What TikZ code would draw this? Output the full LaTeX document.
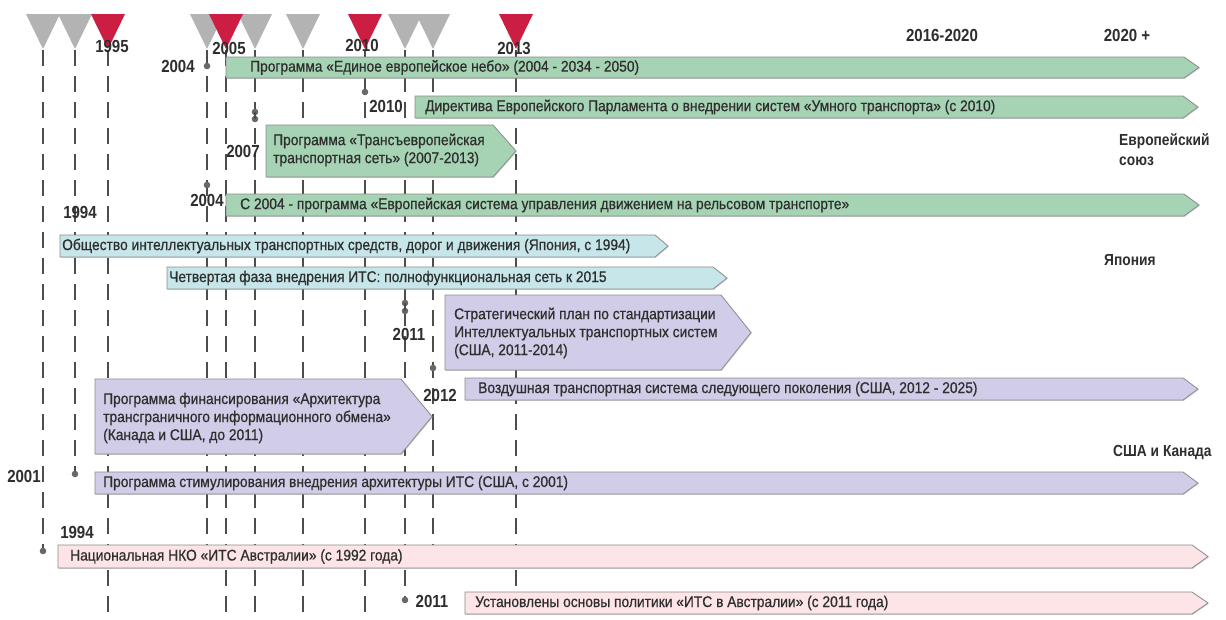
\documentclass[tikz,border=0pt]{standalone}
\usepackage{fontspec}
\setmainfont[FakeStretch=0.86]{Liberation Sans}
\newfontfamily\barfont[FakeStretch=0.89,FakeBold=0.6]{Liberation Sans}
\usetikzlibrary{shadows}
\definecolor{eugreen}{HTML}{A6D3B4}
\definecolor{jpcyan}{HTML}{C7E6EA}
\definecolor{uslav}{HTML}{D1CDE8}
\definecolor{aupink}{HTML}{FCE4E7}
\definecolor{trired}{HTML}{CC1E42}
\definecolor{trigray}{HTML}{B3B3B3}
\definecolor{txt}{HTML}{2E2E2E}
\definecolor{vline}{HTML}{4D4D4D}
\definecolor{edgec}{HTML}{8C8C8C}
\tikzset{
 vdash/.style={draw=vline, line width=1.8pt, dash pattern=on 16pt off 10pt},
 barbox/.style={draw=edgec, line width=0.8pt, drop shadow={shadow xshift=0.8pt, shadow yshift=-0.8pt, opacity=0.35}},
 bartext/.style={anchor=west, inner sep=0pt, text=txt, font=\barfont\fontsize{15.5}{16}\selectfont},
 multitext/.style={anchor=west, inner sep=0pt, text=txt, align=left, font=\barfont\fontsize{15.5}{18}\selectfont},
 yearlbl/.style={text=txt, font=\fontsize{17.5}{17}\selectfont\bfseries, inner sep=0pt},
 regionlbl/.style={text=txt, font=\fontsize{16}{20}\selectfont\bfseries, inner sep=0pt, anchor=west, align=left},
 pinc/.style={fill=vline!85, draw=none},
}
\newcommand\chevbar[6]{\path[barbox, fill=#6] (#1,#2) -- (#3,#2) -- ({#3+#5},{(#2+#4)/2}) -- (#3,#4) -- (#1,#4) -- cycle;}
\newcommand\tritop[2]{\fill[#2] ({#1-17},14) -- ({#1+17},14) -- (#1,49) -- cycle;}
\begin{document}
\begin{tikzpicture}[x=1pt,y=-1pt]
\useasboundingbox (0,0) rectangle (1226,619);
\fill[white] (0,0) rectangle (1226,619);
% vertical dashed year lines
\foreach \xx/\yy in {43/551,75/474,108/619,207/545,226/619,255/619,303/619,365/619,405/600,433/545,516/600}{
  \coordinate (t\xx) at (\xx,50);
  \coordinate (b\xx) at (\xx,\yy);
  \draw[vdash] (t\xx) -- (b\xx);
}
% triangles
\tritop{43}{trigray}
\tritop{75}{trigray}
\tritop{108}{trired}
\tritop{207}{trigray}
\tritop{255}{trigray}
\tritop{226}{trired}
\tritop{303}{trigray}
\tritop{365}{trired}
\tritop{405}{trigray}
\tritop{433}{trigray}
\tritop{516}{trired}
% top labels
\node[yearlbl] (y1995) at (112,46) {1995};
\node[yearlbl] (y2005) at (229,48) {2005};
\node[yearlbl] (y2010) at (362,45) {2010};
\node[yearlbl] (y2013) at (514,48) {2013};
\node[yearlbl] (y1620) at (942,35) {2016-2020};
\node[yearlbl] (y20p) at (1127,35) {2020 +};
% EU bars
\chevbar{226}{57}{1184}{78}{15}{eugreen}
\node[bartext] (eu1) at (250,67.5) {Программа «Единое европейское небо» (2004 - 2034 - 2050)};
\chevbar{415}{96}{1183}{118}{15}{eugreen}
\node[bartext] (eu2) at (425,107) {Директива Европейского Парламента о внедрении систем «Умного транспорта» (с 2010)};
\chevbar{266}{125}{493}{177}{23}{eugreen}
\node[multitext] (eu3) at (273,150) {Программа «Трансъевропейская\\транспортная сеть» (2007-2013)};
\chevbar{226}{194}{1184}{216}{15}{eugreen}
\node[bartext] (eu4) at (240,205) {С 2004 - программа «Европейская система управления движением на рельсовом транспорте»};
% Japan bars
\chevbar{60}{235}{655}{257}{13}{jpcyan}
\node[bartext] (jp1) at (62,246) {Общество интеллектуальных транспортных средств, дорог и движения (Япония, с 1994)};
\chevbar{167}{267}{713}{289}{14}{jpcyan}
\node[bartext] (jp2) at (169,278) {Четвертая фаза внедрения ИТС: полнофункциональная сеть к 2015};
% USA bars
\chevbar{445}{295}{721}{370}{30}{uslav}
\node[multitext] (us1) at (454,333) {Стратегический план по стандартизации\\Интеллектуальных транспортных систем\\(США, 2011-2014)};
\chevbar{465}{378}{1183}{400}{15}{uslav}
\node[bartext] (us2) at (478,389) {Воздушная транспортная система следующего поколения (США, 2012 - 2025)};
\chevbar{95}{379}{401}{454}{31}{uslav}
\node[multitext] (us3) at (103,418) {Программа финансирования «Архитектура\\трансграничного информационного обмена»\\(Канада и США, до 2011)};
\chevbar{95}{472}{1183}{494}{15}{uslav}
\node[bartext] (us4) at (103,483) {Программа стимулирования внедрения архитектуры ИТС (США, с 2001)};
% Australia bars
\chevbar{58}{545}{1192}{568}{16}{aupink}
\node[bartext] (au1) at (70,556.5) {Национальная НКО «ИТС Австралии» (с 1992 года)};
\chevbar{465}{592}{1192}{614}{16}{aupink}
\node[bartext] (au2) at (475,603) {Установлены основы политики «ИТС в Австралии» (с 2011 года)};
% start pins
\foreach \nm/\px/\py in {p1/207/66,p2/365/92,p3/255/112,p4/255/119,p5/207/185,p6/405/303,p7/405/311,p8/433/368,p9/75/474,p10/43/551,p11/405/600}{
  \coordinate (\nm) at (\px,\py);
  \fill[pinc] (\nm) circle (3.3);
}
\draw[vline, line width=1.8pt] (p3) -- (p4);
\draw[vline, line width=1.8pt] (p6) -- (p7);
% year labels at starts
\node[yearlbl] (l2004a) at (178,66) {2004};
\node[yearlbl] (l2010) at (386,106) {2010};
\node[yearlbl] (l2007) at (243,151) {2007};
\node[yearlbl] (l2004b) at (207,200) {2004};
\node[yearlbl] (l1994a) at (80,212) {1994};
\node[yearlbl] (l2011a) at (409,334) {2011};
\node[yearlbl] (l2012) at (440,395) {2012};
\node[yearlbl] (l2001) at (24,476) {2001};
\node[yearlbl] (l1994b) at (77,532) {1994};
\node[yearlbl] (l2011b) at (432,601) {2011};
% region labels
\node[regionlbl] (reu) at (1119,150) {Европейский\\союз};
\node[regionlbl] (rjp) at (1104,260) {Япония};
\node[regionlbl] (rus) at (1113,452) {США и Канада};
\end{tikzpicture}
\end{document}
